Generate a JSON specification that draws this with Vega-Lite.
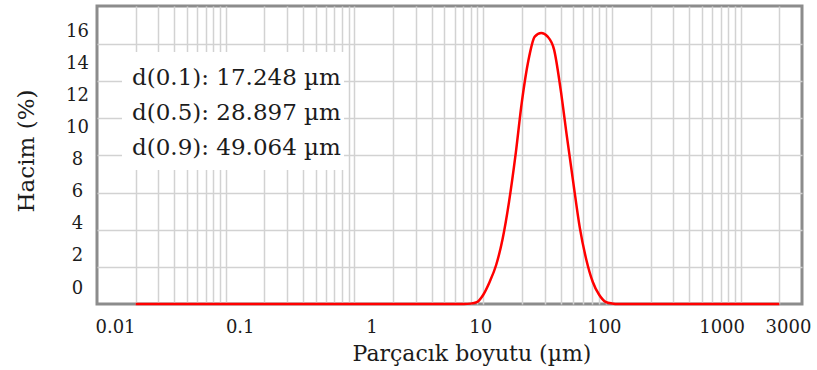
{
  "$schema": "https://vega.github.io/schema/vega-lite/v6.json",
  "width": 705,
  "height": 298,
  "autosize": {"type": "none"},
  "padding": {"left": 97, "top": 6, "right": 15, "bottom": 66},
  "background": "white",
  "config": {
    "view": {"stroke": "#8c8c8c", "strokeWidth": 3},
    "axis": {"labelFont": "DejaVu Serif", "titleFont": "DejaVu Serif", "labelColor": "#1c1c1c", "titleColor": "#1c1c1c", "titleFontWeight": "normal"}
  },
  "datasets": {
    "psd": [
      {"size": 0.02, "vol": 0},
      {"size": 7.096, "vol": 0},
      {"size": 7.962, "vol": 0.02},
      {"size": 8.934, "vol": 0.1},
      {"size": 10.024, "vol": 0.5},
      {"size": 11.247, "vol": 1.2},
      {"size": 12.619, "vol": 2.1},
      {"size": 14.159, "vol": 3.5},
      {"size": 15.887, "vol": 5.5},
      {"size": 17.825, "vol": 8.0},
      {"size": 20.0, "vol": 10.9},
      {"size": 22.44, "vol": 13.1},
      {"size": 25.179, "vol": 14.4},
      {"size": 28.251, "vol": 14.6},
      {"size": 31.698, "vol": 14.4},
      {"size": 35.566, "vol": 13.7},
      {"size": 39.905, "vol": 11.6},
      {"size": 44.774, "vol": 9.0},
      {"size": 50.238, "vol": 6.5},
      {"size": 56.368, "vol": 4.1},
      {"size": 63.246, "vol": 2.4},
      {"size": 70.963, "vol": 1.2},
      {"size": 79.621, "vol": 0.5},
      {"size": 89.337, "vol": 0.12},
      {"size": 100.237, "vol": 0.03},
      {"size": 112.468, "vol": 0},
      {"size": 2000, "vol": 0}
    ],
    "stats": [
      {"stat": "d(0.1)", "um": 17.248},
      {"stat": "d(0.5)", "um": 28.897},
      {"stat": "d(0.9)", "um": 49.064}
    ]
  },
  "resolve": {"scale": {"y": "independent"}},
  "layer": [
    {
      "data": {"name": "psd"},
      "mark": {"type": "line", "color": "#ff0000", "strokeWidth": 2.5, "interpolate": "monotone"},
      "encoding": {
        "x": {
          "field": "size", "type": "quantitative",
          "scale": {"type": "log", "domain": [0.01, 3000], "nice": false},
          "axis": {
            "values": [0.01,0.02,0.03,0.04,0.05,0.06,0.07,0.08,0.09,0.1,0.2,0.3,0.4,0.5,0.6,0.7,0.8,0.9,1,2,3,4,5,6,7,8,9,10,20,30,40,50,60,70,80,90,100,200,300,400,500,600,700,800,900,1000,2000,3000],
            "format": "~g",
            "labelExpr": "indexof([0.01,0.1,1,10,100,1000,3000], datum.value) >= 0 ? datum.label : ''",
            "labelOffset": {"expr": "datum.value == 0.01 ? 18 : datum.value == 0.1 ? 14 : datum.value == 1 ? 17 : datum.value == 10 ? -3 : datum.value == 100 ? -8 : datum.value == 1000 ? -19 : datum.value == 3000 ? -14 : 0"},
            "labelFontSize": 18,
            "labelBaseline": "top",
            "labelAlign": "center",
            "labelPadding": 14,
            "labelFlush": false,
            "labelOverlap": false,
            "labelBound": false,
            "ticks": false,
            "domain": false,
            "grid": true,
            "gridColor": "#d2d2d2",
            "gridWidth": 1.5,
            "gridOpacity": {"condition": {"test": "datum.value == 0.01 || datum.value == 3000", "value": 0}, "value": 1},
            "title": "Parçacık boyutu (µm)",
            "titleFontSize": 22,
            "titleX": 374.5,
            "titleY": 56,
            "titleAlign": "center",
            "titleBaseline": "alphabetic"
          }
        },
        "y": {
          "field": "vol", "type": "quantitative",
          "scale": {"domain": [0, 16.05], "nice": false, "zero": false},
          "axis": {
            "values": [0, 2, 4, 6, 8, 10, 12, 14, 16],
            "labelOffset": {"expr": "-16 + 2.507*datum.value"},
            "labelFontSize": 18,
            "labelAlign": "center",
            "labelBaseline": "middle",
            "labelPadding": 20,
            "labelFlush": false,
            "labelOverlap": false,
            "labelBound": false,
            "ticks": false,
            "domain": false,
            "grid": true,
            "gridColor": "#d2d2d2",
            "gridWidth": 1.5,
            "gridOpacity": {"condition": {"test": "datum.value == 0 || datum.value == 16", "value": 0}, "value": 1},
            "title": "Hacim (%)",
            "titleFontSize": 23,
            "titleAngle": 270,
            "titleX": -64,
            "titleY": 144.5,
            "titleAlign": "center",
            "titleBaseline": "alphabetic"
          }
        }
      }
    },
    {
      "data": {"values": [{}]},
      "mark": {"type": "rect", "color": "white", "opacity": 1},
      "encoding": {
        "x": {"datum": 0.01564, "type": "quantitative"},
        "x2": {"datum": 0.8299},
        "y": {"datum": 13.57, "type": "quantitative", "scale": {"domain": [0, 16.05], "nice": false, "zero": false}, "axis": null},
        "y2": {"datum": 7.22}
      }
    },
    {
      "data": {"name": "stats"},
      "transform": [{"calculate": "datum.stat + ': ' + format(datum.um, '.3f') + ' µm'", "as": "txt"}],
      "mark": {"type": "text", "align": "left", "baseline": "alphabetic", "font": "DejaVu Serif", "fontSize": 23, "color": "#1c1c1c"},
      "encoding": {
        "x": {"datum": 0.0187, "type": "quantitative"},
        "y": {"field": "stat", "type": "ordinal", "scale": {"type": "point", "domain": ["d(0.1)", "d(0.5)", "d(0.9)"], "range": [79, 149], "padding": 0}, "axis": null},
        "text": {"field": "txt"}
      }
    }
  ]
}
